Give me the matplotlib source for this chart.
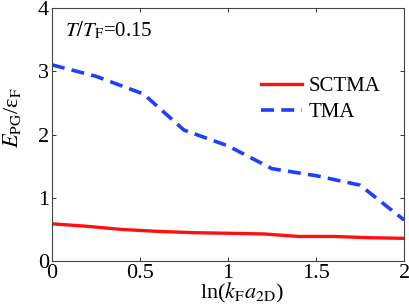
import matplotlib
matplotlib.use("Agg")
import matplotlib.pyplot as plt

# values
x_sctma = [0.0, 0.2, 0.4, 0.6, 0.8, 1.0, 1.2, 1.4, 1.6, 1.8, 2.0]
y_sctma = [0.59, 0.55, 0.50, 0.47, 0.45, 0.44, 0.43, 0.39, 0.39, 0.37, 0.36]

x_tma = [0.0, 0.25, 0.52, 0.75, 1.0, 1.25, 1.5, 1.75, 2.0]
y_tma = [3.10, 2.92, 2.64, 2.07, 1.82, 1.46, 1.35, 1.20, 0.65]

xticks = [0, 0.5, 1, 1.5, 2]
xtick_labels = ["0", "0.5", "1", "1.5", "2"]
yticks = [0, 1, 2, 3, 4]

plt.rcParams["font.family"] = "Liberation Serif"
plt.rcParams["mathtext.fontset"] = "stix"

fig = plt.figure(figsize=(4.09, 3.04), dpi=100)
ax = fig.add_axes([0.127, 0.141, 0.861, 0.833])

ax.plot(x_sctma, y_sctma, color="#ff1010", lw=2.4, label="SCTMA")
ax.plot(x_tma, y_tma, color="#1f3fff", lw=2.6, ls=(0, (3.6, 2.0)), label="TMA")

ax.set_xlim(0, 2)
ax.set_ylim(0, 4)
ax.set_xticks(xticks)
ax.set_xticklabels(xtick_labels)
ax.set_yticks(yticks)
ax.tick_params(direction="in", top=True, right=True, labelsize=16, length=3,
               width=0.7, colors="#333333", labelcolor="black", pad=2)
for sp in ax.spines.values():
    sp.set_linewidth(0.8)
    sp.set_color("#444444")

ax.set_xlabel(r"ln($k_{\rm F}a_{\rm 2D}$)", fontsize=16)
ax.xaxis.set_label_coords(0.54, -0.078)
ax.set_ylabel(r"$E_{\rm PG}$/ε$_{\rm F}$", fontsize=16)
ax.yaxis.set_label_coords(-0.082, 0.565)
ax.text(0.075, 3.65, r"$T/T_{\rm F}$=0.15", fontsize=15, va="center")

ax.legend(loc="center left", bbox_to_anchor=(0.595, 0.638), frameon=False,
          fontsize=15, handlelength=1.93, handletextpad=0.33, labelspacing=0.3,
          borderpad=0, borderaxespad=0)

fig.savefig("out.png", dpi=100)
